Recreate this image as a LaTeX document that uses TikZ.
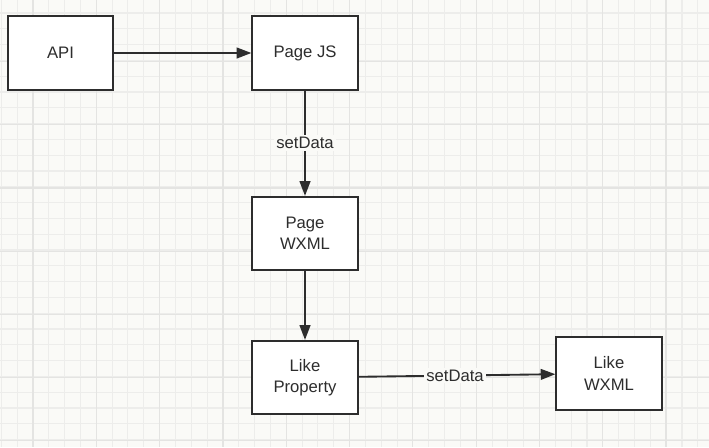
\documentclass[tikz,border=0pt]{standalone}
\usepackage{fontspec}
\setmainfont{Liberation Sans}
\usetikzlibrary{arrows.meta}
\definecolor{paperwhite}{RGB}{250, 250, 247}
\definecolor{gridminor}{RGB}{237, 237, 235}
\definecolor{gridmajor}{RGB}{228, 228, 226}
\definecolor{inkgray}{RGB}{45, 45, 45}

\begin{document}
\begin{tikzpicture}[
  x=0.75pt, y=-0.75pt,
  every node/.style={font=\fontsize{12.5}{16}\selectfont, text=inkgray},
  flowbox/.style={draw=inkgray, fill=white, line width=1.4pt,
    minimum width=79pt, minimum height=55pt, align=center, inner sep=2pt},
  flowarrow/.style={draw=inkgray, line width=1.4pt,
    -{Triangle[length=11pt, width=8pt]}},
  flowlabel/.style={fill=paperwhite, inner sep=1.5pt}
]
  \useasboundingbox (0,0) rectangle (709,447);

  % Paper with grid
  \fill[paperwhite] (0,0) rectangle (709,447);
  \foreach \i in {0,...,45} {
    \draw[gridminor, line width=0.8pt] (1.3+15.83*\i,0) -- (1.3+15.83*\i,447);
  }
  \foreach \j in {0,...,28} {
    \draw[gridminor, line width=0.8pt] (0,13+15.8*\j) -- (709,13+15.8*\j);
  }
  \foreach \i in {0,...,11} {
    \draw[gridmajor, line width=0.9pt] (33+63.3*\i,0) -- (33+63.3*\i,447);
  }
  \foreach \j in {0,...,7} {
    \draw[gridmajor, line width=0.9pt] (0,-1.6+63.2*\j) -- (709,-1.6+63.2*\j);
  }

  % Boxes
  \node[flowbox] (api) at (60.5,53) {API};
  \node[flowbox] (pagejs) at (305,53) {Page JS};
  \node[flowbox] (pagewxml) at (305,233.5) {Page\\WXML};
  \node[flowbox] (likeprop) at (305,377.5) {Like\\Property};
  \node[flowbox] (likewxml) at (609,373.5) {Like\\WXML};

  % Connectors
  \draw[flowarrow] (api) -- (pagejs);
  \draw[flowarrow] (pagejs) -- node[flowlabel] {setData} (pagewxml);
  \draw[flowarrow] (pagewxml) -- (likeprop);
  \draw[flowarrow] (likeprop) -- node[flowlabel, pos=0.49] {setData} (likewxml);
\end{tikzpicture}
\end{document}
